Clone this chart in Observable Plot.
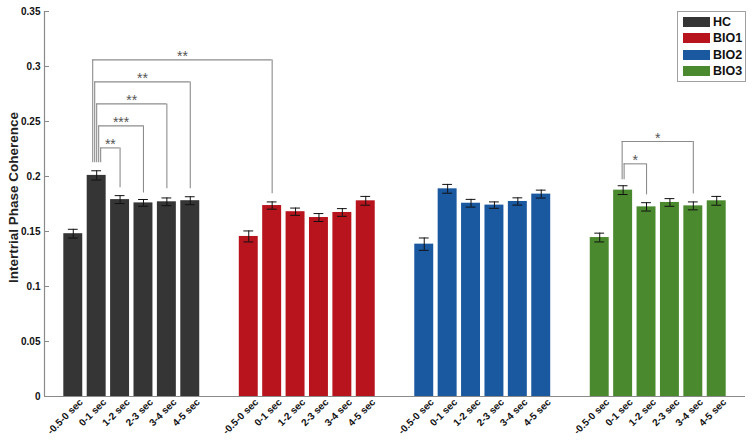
<!DOCTYPE html>
<html>
<head>
<meta charset="utf-8">
<script src="https://cdn.jsdelivr.net/npm/d3@7"></script>
<script src="https://cdn.jsdelivr.net/npm/@observablehq/plot@0.6"></script>
<style>
  html, body { margin: 0; padding: 0; background: #fff; }
  #wrap { position: relative; width: 754px; height: 444px; font-family: "Liberation Sans", Arial, sans-serif; }
  #legend { position: absolute; left: 677px; top: 11px; width: 67px; height: 67px; border: 1px solid #a0a0a0; background: #fff; box-sizing: content-box; padding-top: 2px; }
  #legend .row { display: flex; align-items: center; height: 16.3px; }
  #legend .sw { width: 27px; height: 10px; margin-left: 5px; margin-right: 3px; }
  #legend .lb { font-weight: bold; font-size: 12.5px; color: #111; }
</style>
</head>
<body>
<div id="wrap"></div>
<script>
// ---- data ----
const groups = ["HC", "BIO1", "BIO2", "BIO3"];
const colors = ["#353535", "#b8141e", "#1a58a0", "#4a892d"];
const windows = ["-0.5-0 sec", "0-1 sec", "1-2 sec", "2-3 sec", "3-4 sec", "4-5 sec"];

const hcMean   = [0.148, 0.201, 0.179, 0.176, 0.177, 0.178];
const hcErr    = [0.004, 0.0042, 0.0036, 0.0031, 0.0035, 0.0036];
const bio1Mean = [0.1455, 0.1736, 0.168, 0.1627, 0.1673, 0.1779];
const bio1Err  = [0.005, 0.0033, 0.0033, 0.0036, 0.0035, 0.004];
const bio2Mean = [0.1385, 0.1888, 0.1757, 0.174, 0.1773, 0.184];
const bio2Err  = [0.0056, 0.004, 0.0035, 0.0029, 0.0033, 0.0036];
const bio3Mean = [0.1445, 0.1876, 0.1724, 0.1764, 0.1733, 0.1779];
const bio3Err  = [0.004, 0.004, 0.0038, 0.0035, 0.0036, 0.004];

const yTicks = [0, 0.05, 0.1, 0.15, 0.2, 0.25, 0.3, 0.35];
const yLabel = "Intertrial Phase Coherence";

// significance brackets
const sigFromGroup = ["HC", "HC", "HC", "HC", "HC", "BIO3", "BIO3"];
const sigFromWin   = ["0-1 sec", "0-1 sec", "0-1 sec", "0-1 sec", "0-1 sec", "0-1 sec", "0-1 sec"];
const sigToGroup   = ["HC", "HC", "HC", "HC", "BIO1", "BIO3", "BIO3"];
const sigToWin     = ["1-2 sec", "2-3 sec", "3-4 sec", "4-5 sec", "0-1 sec", "1-2 sec", "3-4 sec"];
const sigLabel     = ["**", "***", "**", "**", "**", "*", "*"];
const sigLevel     = [0.226, 0.246, 0.266, 0.286, 0.306, 0.2115, 0.2318];
const sigFromTop   = [0.2125, 0.2125, 0.2125, 0.2125, 0.2125, 0.197, 0.197];
const sigToTop     = [0.1897, 0.185, 0.1888, 0.1888, 0.1843, 0.1833, 0.184];

// ---- build table ----
const means = [hcMean, bio1Mean, bio2Mean, bio3Mean];
const errs = [hcErr, bio1Err, bio2Err, bio3Err];
const groupGap = 1.5;           // empty slots between groups
const slotsPerGroup = windows.length + groupGap;
const rows = [];
groups.forEach((g, gi) => windows.forEach((w, wi) => rows.push({
  group: g, win: w, pos: gi * slotsPerGroup + wi, mean: means[gi][wi], err: errs[gi][wi]
})));
const posOf = (g, w) => rows.find(d => d.group === g && d.win === w).pos;
const labelOf = new Map(rows.map(d => [d.pos, d.win]));

const sig = sigLabel.map((lab, i) => ({
  label: lab, level: sigLevel[i], fromTop: sigFromTop[i], toTop: sigToTop[i],
  from: posOf(sigFromGroup[i], sigFromWin[i]), to: posOf(sigToGroup[i], sigToWin[i])
}));
// stagger the shared left legs
const byStart = d3.group(sig, d => d.from);
for (const [, arr] of byStart) {
  arr.sort((a, b) => a.level - b.level);
  const n = arr.length;
  arr.forEach((d, r) => d.x0 = d.from + ((n - 1) / 2 - r) * 0.085);
}

const lastPos = d3.max(rows, d => d.pos);
const xDomain = [-1.23, lastPos + 1.23];
const halfBar = 0.405, halfCap = 0.21;
const axisGray = "#8a8a8a";

const chart = Plot.plot({
  width: 754, height: 444,
  marginLeft: 44, marginRight: 9, marginTop: 11, marginBottom: 48,
  style: { fontFamily: "Liberation Sans, Arial, sans-serif", fontWeight: "bold", fontSize: "10px", color: "#111", background: "#fff" },
  x: { type: "linear", domain: xDomain, axis: null },
  y: { domain: [0, 0.35], axis: null },
  color: { domain: groups, range: colors },
  marks: [
    Plot.rect(rows, { x1: d => d.pos - halfBar, x2: d => d.pos + halfBar, y1: () => 0, y2: "mean", fill: "group" }),
    Plot.ruleX(rows, { x: "pos", y1: d => d.mean - d.err, y2: d => d.mean + d.err, stroke: "#111", strokeWidth: 1 }),
    Plot.ruleY(rows, { y: d => d.mean - d.err, x1: d => d.pos - halfCap, x2: d => d.pos + halfCap, stroke: "#111", strokeWidth: 1 }),
    Plot.ruleY(rows, { y: d => d.mean + d.err, x1: d => d.pos - halfCap, x2: d => d.pos + halfCap, stroke: "#111", strokeWidth: 1 }),
    // axes lines
    Plot.ruleY([0], { stroke: axisGray, strokeWidth: 1.2 }),
    Plot.ruleX([xDomain[0]], { stroke: axisGray, strokeWidth: 1.2 }),
    // y axis
    Plot.axisY({ ticks: yTicks, tickSize: 5, dx: 5, tickFormat: () => "", label: null, stroke: axisGray }),
    Plot.axisY({ ticks: yTicks, tickSize: 0, tickPadding: 4, tickFormat: d3.format("~g"), label: null, fill: "#111" }),
    Plot.text([yLabel], { text: d => d, frameAnchor: "left", textAnchor: "middle", rotate: -90, dx: -31, dy: -6.5, fontSize: 13.5, fontWeight: "bold", fill: "#222" }),
    // x axis
    Plot.axisX(rows.map(d => d.pos), { tickSize: 0, tickPadding: 4, tickRotate: -45, dx: 8, tickFormat: p => labelOf.get(p), label: null, fill: "#111" }),
    // significance brackets
    Plot.ruleX(sig, { x: "x0", y1: "fromTop", y2: "level", stroke: "#8c8c8c", strokeWidth: 1.1 }),
    Plot.ruleY(sig, { y: "level", x1: "x0", x2: "to", stroke: "#8c8c8c", strokeWidth: 1.1 }),
    Plot.ruleX(sig, { x: "to", y1: "toTop", y2: "level", stroke: "#8c8c8c", strokeWidth: 1.1 }),
    Plot.text(sig, { x: d => (d.x0 + d.to) / 2, y: "level", text: "label", dy: -3.5, fontSize: 14, fontWeight: "normal", fill: "#555" })
  ]
});
const wrap = document.getElementById("wrap");
wrap.appendChild(chart);

// legend
const legend = document.createElement("div");
legend.id = "legend";
groups.forEach((g, i) => {
  const row = document.createElement("div");
  row.className = "row";
  const sw = document.createElement("span");
  sw.className = "sw";
  sw.style.background = colors[i];
  const lb = document.createElement("span");
  lb.className = "lb";
  lb.textContent = g;
  row.appendChild(sw); row.appendChild(lb);
  legend.appendChild(row);
});
wrap.appendChild(legend);
</script>
</body>
</html>
